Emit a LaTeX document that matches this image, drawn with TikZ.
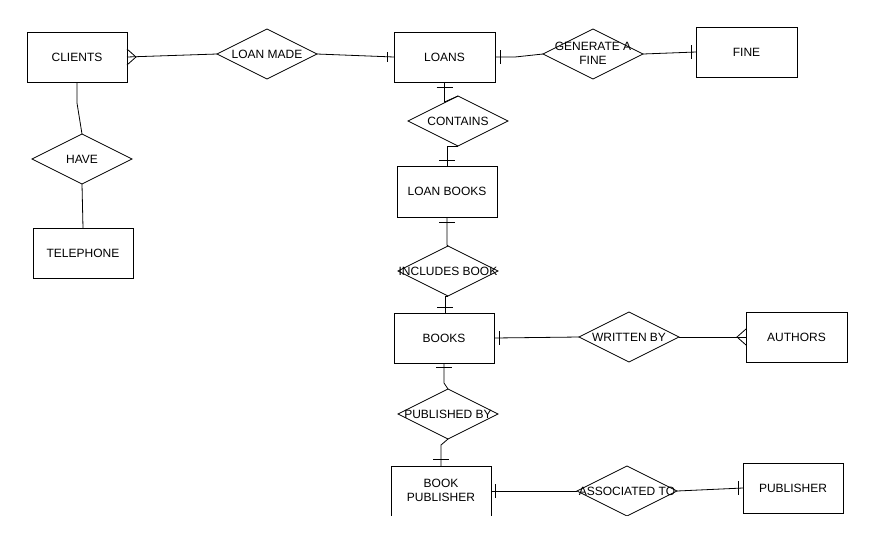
\documentclass[tikz,border=0pt]{standalone}
\usepackage{fontspec}
\setmainfont{Liberation Sans}
\usetikzlibrary{shapes.geometric,calc}
\begin{document}
\begin{tikzpicture}[x=1pt,y=-1pt,
  font=\fontsize{12}{14}\selectfont,
  line width=0.8pt,
  entity/.style={draw, rectangle, minimum width=100pt, minimum height=50pt, inner sep=0pt, outer sep=0pt, align=center},
  rel/.style={draw, diamond, aspect=2, minimum width=100pt, minimum height=50pt, inner sep=0pt, outer sep=0pt},
  lbl/.style={inner sep=0pt, align=center},
  conn/.style={draw, line width=0.8pt},
  barmark/.style={draw, line width=0.8pt}
]
\fill[white] (0,0) rectangle (872,542);
\useasboundingbox (0,0) rectangle (872,542);
\begin{scope}
\clip (0,0) rectangle (872,515);
% entities
\node[entity] (clients) at (77,57) {CLIENTS};
\node[entity, minimum width=101pt] (loans) at (444.5,57) {LOANS};
\node[entity, minimum width=101pt] (fine) at (746.5,52) {FINE};
\node[entity, minimum height=51pt] (loanbooks) at (447,191.5) {LOAN BOOKS};
\node[entity] (telephone) at (83,253) {TELEPHONE};
\node[entity] (books) at (444,338) {BOOKS};
\node[entity, minimum width=101pt] (authors) at (796.5,337) {AUTHORS};
\node[entity, minimum height=52pt] (bookpub) at (441,492) {};
\node[lbl] (bookpubtxt) at (441,490) {BOOK\\PUBLISHER};
\node[entity] (publisher) at (793,488) {PUBLISHER};
% relationships
\node[rel] (loanmade) at (267,54) {};
\node[lbl] (loanmadetxt) at (loanmade) {LOAN MADE};
\node[rel] (gen) at (593,54) {};
\node[lbl] (gentxt) at (593,53) {GENERATE A\\FINE};
\node[rel] (contains) at (458,121) {};
\node[lbl] (containstxt) at (contains) {CONTAINS};
\node[rel] (have) at (82,159) {};
\node[lbl] (havetxt) at (have) {HAVE};
\node[rel] (includes) at (448,271) {};
\node[lbl] (includestxt) at (includes) {INCLUDES BOOK};
\node[rel] (written) at (629,337) {};
\node[lbl] (writtentxt) at (written) {WRITTEN BY};
\node[rel] (pubby) at (448,414) {};
\node[lbl] (pubbytxt) at (pubby) {PUBLISHED BY};
\node[rel] (assoc) at (627,491) {};
\node[lbl] (assoctxt) at (assoc) {ASSOCIATED TO};
% connectors
\draw[conn] (clients.east) -- (loanmade.west);
\draw[barmark] ([yshift=8pt]clients.east) -- ([xshift=9pt]clients.east) -- ([yshift=-8pt]clients.east);
\draw[conn] (loanmade.east) -- (loans.west);
\draw[barmark] ([xshift=-7pt,yshift=5pt]loans.west) -- ([xshift=-7pt,yshift=-5pt]loans.west);
\draw[conn] (loans.east) -- ++(20,0) -- (gen.west);
\draw[barmark] ([xshift=5pt,yshift=7pt]loans.east) -- ([xshift=5pt,yshift=-7pt]loans.east);
\draw[conn] (gen.east) -- (fine.west);
\draw[barmark] ([xshift=-5pt,yshift=7pt]fine.west) -- ([xshift=-5pt,yshift=-7pt]fine.west);
\draw[conn] (loans.south) -- ++(0,20) -- (contains.north);
\draw[barmark] ([xshift=-8pt,yshift=-5pt]loans.south) -- ([xshift=8pt,yshift=-5pt]loans.south);
\draw[conn] (contains.south) -- (loanbooks.north |- contains.south) -- (loanbooks.north);
\draw[barmark] ([xshift=-8pt,yshift=6pt]loanbooks.north) -- ([xshift=8pt,yshift=6pt]loanbooks.north);
\draw[conn] (loanbooks.south) -- ++(0,28) -- (includes.north);
\draw[barmark] ([xshift=-8pt,yshift=-5pt]loanbooks.south) -- ([xshift=8pt,yshift=-5pt]loanbooks.south);
\draw[conn] (includes.south) -- ([xshift=1pt]books.north |- includes.south) -- ([xshift=1pt]books.north);
\draw[barmark] ([xshift=-7pt,yshift=6pt]books.north) -- ([xshift=9pt,yshift=6pt]books.north);
\draw[conn] (books.south) -- ++(0,20) -- (pubby.north);
\draw[barmark] ([xshift=-8pt,yshift=-4pt]books.south) -- ([xshift=8pt,yshift=-4pt]books.south);
\draw[conn] (pubby.south) -- ++(-7,6) -- (bookpub.north);
\draw[barmark] ([xshift=-8pt,yshift=7pt]bookpub.north) -- ([xshift=8pt,yshift=7pt]bookpub.north);
\draw[conn] (books.east) -- (written.west);
\draw[barmark] ([xshift=5pt,yshift=7pt]books.east) -- ([xshift=5pt,yshift=-7pt]books.east);
\draw[conn] (written.east) -- (authors.west);
\draw[barmark] ([yshift=8pt]authors.west) -- ([xshift=-9pt]authors.west) -- ([yshift=-8pt]authors.west);
\draw[conn] ([yshift=1pt]bookpub.east) -- (assoc.west);
\draw[barmark] ([xshift=4pt,yshift=8pt]bookpub.east) -- ([xshift=4pt,yshift=-6pt]bookpub.east);
\draw[conn] (assoc.east) -- (publisher.west);
\draw[barmark] ([xshift=-5pt,yshift=7pt]publisher.west) -- ([xshift=-5pt,yshift=-7pt]publisher.west);
\draw[conn] (clients.south) -- ++(0,21) -- (have.north);
\draw[conn] (have.south) -- (telephone.north);
\end{scope}
\end{tikzpicture}
\end{document}
